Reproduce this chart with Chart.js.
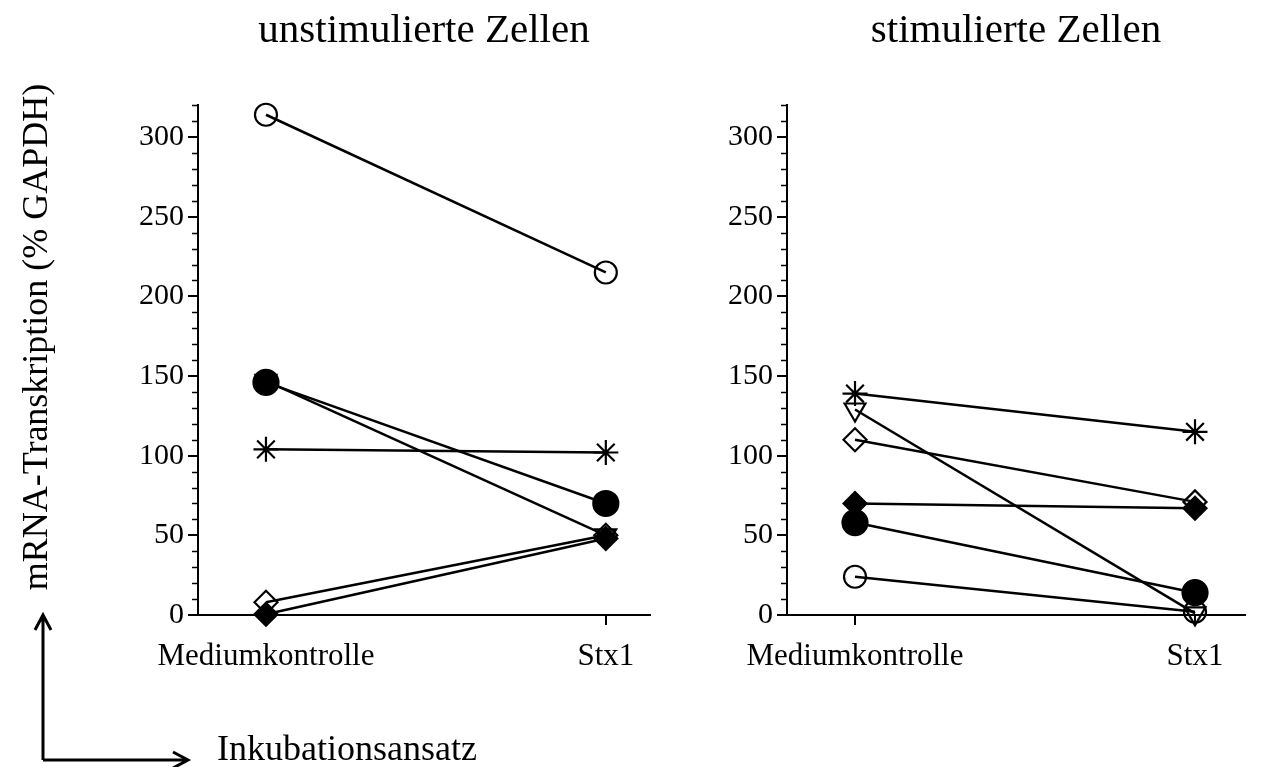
<!DOCTYPE html>
<html>
<head>
<meta charset="utf-8">
<script src="https://cdn.jsdelivr.net/npm/chart.js@4"></script>
<style>
  body { margin: 0; background: #fff; }
  #wrap { position: relative; width: 1263px; height: 767px; overflow: hidden; }
  canvas, svg { position: absolute; top: 0; }
</style>
</head>
<body>
<div id="wrap">
  <canvas id="left" width="668" height="700" style="left:0"></canvas>
  <canvas id="right" width="608" height="700" style="left:655px"></canvas>
  <svg width="1263" height="767" style="left:0">
    <g font-family="Liberation Serif, Times New Roman, serif" fill="#000">
      <text transform="translate(47,337) rotate(-90)" text-anchor="middle" font-size="36">mRNA-Transkription (% GAPDH)</text>
      <text x="217" y="760" font-size="36">Inkubationsansatz</text>
    </g>
    <g stroke="#000" stroke-width="3" fill="none">
      <path d="M43 760 V615 M35 630 L43 615 L51 630"/>
      <path d="M43 760 H188 M173 752 L188 760 L173 768"/>
    </g>
  </svg>
</div>
<script>
// categories and values
const categories = ['Mediumkontrolle', 'Stx1'];
const yTicks = [0, 50, 100, 150, 200, 250, 300];
const yMax = 320;

// unstimulierte Zellen
const unstimOpenCircle = [314, 215];
const unstimFilledCircle = [146, 70];
const unstimTriangle = [147, 50];
const unstimStar = [104, 102];
const unstimOpenDiamond = [8, 50];
const unstimFilledDiamond = [0.5, 48];

// stimulierte Zellen
const stimStar = [139, 115];
const stimTriangle = [129, 1];
const stimOpenDiamond = [110, 71];
const stimFilledDiamond = [70, 67];
const stimFilledCircle = [58, 14];
const stimOpenCircle = [24, 2];

const serif = '"Liberation Serif", "Times New Roman", serif';
const none = 'rgba(0,0,0,0)';

const markerStyles = {
  openCircle: { pointStyle: 'circle', pointRadius: 11, pointBackgroundColor: none },
  filledCircle: { pointStyle: 'circle', pointRadius: 12.5, pointBackgroundColor: '#000' },
  triangle: { pointStyle: 'triangle', pointRotation: 180, pointRadius: 12, pointBackgroundColor: none },
  star: { pointStyle: 'star', pointRadius: 12.5, pointBackgroundColor: none },
  openDiamond: { pointStyle: 'rectRot', pointRadius: 11.5, pointBackgroundColor: none },
  filledDiamond: { pointStyle: 'rectRot', pointRadius: 11.5, pointBackgroundColor: '#000' }
};

function series(values, marker) {
  return Object.assign({
    data: values.map((v, i) => ({ x: i, y: v })),
    borderColor: '#000',
    borderWidth: 2.5,
    pointBorderColor: '#000',
    pointBorderWidth: 2.2,
    clip: false
  }, markerStyles[marker]);
}

// small ticks every 10 between the labelled ones
const minorTicks = {
  id: 'minorTicks',
  afterDraw(chart) {
    const y = chart.scales.y;
    const ctx = chart.ctx;
    const x0 = chart.chartArea.left;
    ctx.save();
    ctx.strokeStyle = '#000';
    ctx.lineWidth = 1.5;
    for (let v = 10; v <= yMax; v += 10) {
      if (yTicks.includes(v)) continue;
      const py = Math.round(y.getPixelForValue(v)) + 0.5;
      ctx.beginPath();
      ctx.moveTo(x0 - 6, py);
      ctx.lineTo(x0, py);
      ctx.stroke();
    }
    ctx.restore();
  }
};

function makeChart(id, title, sets, xMax, yWidth, padRight) {
  return new Chart(document.getElementById(id), {
    type: 'line',
    data: { datasets: sets },
    options: {
      responsive: false,
      animation: false,
      events: [],
      layout: { padding: { left: 0, right: padRight, top: 0, bottom: 0 } },
      plugins: {
        legend: { display: false },
        tooltip: { enabled: false },
        title: {
          display: true,
          text: title,
          fullSize: false,
          color: '#000',
          font: { family: serif, size: 41, weight: 'normal' },
          padding: { top: 7, bottom: 49 }
        }
      },
      scales: {
        x: {
          type: 'linear',
          min: -0.2,
          max: xMax,
          afterBuildTicks: s => { s.ticks = categories.map((c, i) => ({ value: i })); },
          afterFit: s => { s.height = 85; },
          ticks: {
            callback: v => categories[v],
            color: '#000',
            font: { family: serif, size: 31 },
            padding: 13,
            maxRotation: 0,
            autoSkip: false
          },
          grid: { drawOnChartArea: false, color: '#000', tickLength: 10, lineWidth: 2 },
          border: { color: '#000', width: 2 }
        },
        y: {
          min: 0,
          max: yMax,
          afterBuildTicks: s => { s.ticks = yTicks.map(v => ({ value: v })); },
          afterFit: s => { s.width = yWidth; },
          ticks: { color: '#000', font: { family: serif, size: 30 }, padding: 4 },
          grid: { drawOnChartArea: false, color: '#000', tickLength: 10, lineWidth: 2 },
          border: { color: '#000', width: 2 }
        }
      }
    },
    plugins: [minorTicks]
  });
}

makeChart('left', 'unstimulierte Zellen', [
  series(unstimOpenCircle, 'openCircle'),
  series(unstimFilledCircle, 'filledCircle'),
  series(unstimTriangle, 'triangle'),
  series(unstimStar, 'star'),
  series(unstimOpenDiamond, 'openDiamond'),
  series(unstimFilledDiamond, 'filledDiamond')
], 1.13, 198, 18);

makeChart('right', 'stimulierte Zellen', [
  series(stimStar, 'star'),
  series(stimTriangle, 'triangle'),
  series(stimOpenDiamond, 'openDiamond'),
  series(stimFilledDiamond, 'filledDiamond'),
  series(stimFilledCircle, 'filledCircle'),
  series(stimOpenCircle, 'openCircle')
], 1.147, 132, 18);
</script>
</body>
</html>
